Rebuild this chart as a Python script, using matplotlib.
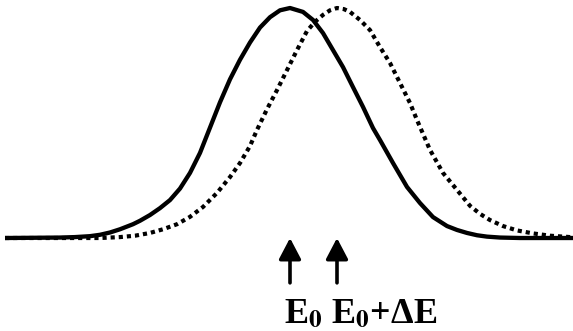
import numpy as np
import matplotlib
matplotlib.use('Agg')
import matplotlib.pyplot as plt

plt.rcParams['mathtext.fontset'] = 'stix'
plt.rcParams['font.family'] = ['Liberation Serif', 'DejaVu Serif']

##################################Spectrum Data#################################

# Energy axis (arbitrary units) and normalised intensity of the two line shapes
energy_a = [5, 60, 75, 90, 100, 110, 120, 133, 140, 150, 160, 170, 180, 190, 200,
            210, 220, 230, 240, 250, 260, 270, 280, 290, 303, 313, 323, 333, 343,
            353, 363, 373, 380, 393, 407, 420, 433, 447, 457, 467, 477, 487, 500,
            520, 573]
peak_a = [0.0, 0.002, 0.004, 0.008, 0.014, 0.024, 0.038, 0.06, 0.075, 0.10, 0.13,
          0.165, 0.215, 0.283, 0.37, 0.48, 0.59, 0.69, 0.775, 0.85, 0.915, 0.96,
          0.99, 1.0, 0.983, 0.948, 0.891, 0.817, 0.743, 0.656, 0.57, 0.478, 0.426,
          0.326, 0.222, 0.152, 0.091, 0.052, 0.035, 0.022, 0.012, 0.006, 0.002,
          0.0, 0.0]

energy_b = [5, 100, 120, 135, 150, 163, 177, 190, 203, 217, 230, 240, 250, 257, 267,
            277, 287, 297, 307, 315, 323, 330, 337, 344, 350, 360, 370, 380, 390,
            400, 410, 417, 430, 443, 457, 470, 480, 490, 503, 517, 533, 550, 567,
            573]
peak_b = [0.0, 0.0, 0.004, 0.01, 0.022, 0.038, 0.06, 0.092, 0.135, 0.196, 0.265,
          0.326, 0.40, 0.47, 0.56, 0.643, 0.73, 0.817, 0.90, 0.94, 0.97, 0.99,
          1.0, 0.995, 0.983, 0.948, 0.904, 0.83, 0.761, 0.674, 0.587, 0.513,
          0.383, 0.283, 0.209, 0.14, 0.105, 0.078, 0.052, 0.033, 0.02, 0.01,
          0.005, 0.003]

# Marker positions for the arrows
E0 = 290
dE = 47
arrow_labels = [r'E$_\mathbf{0}$', r'E$_\mathbf{0}$+ΔE']

####################################Plotting####################################

fig = plt.figure(figsize=(5.73, 3.31), dpi=100)
ax = fig.add_axes([0, 0, 1, 1])

ax.plot(energy_b, peak_b, color='black', lw=3.0, linestyle=(0, (1.0, 0.95)),
        dash_capstyle='butt', solid_joinstyle='round')
ax.plot(energy_a, peak_a, color='black', lw=3.1, solid_capstyle='butt',
        solid_joinstyle='round')

for x, lab in zip([E0, E0 + dE], arrow_labels):
    ax.annotate('', xy=(x, 0.0), xytext=(x, -0.195),
                arrowprops=dict(arrowstyle='-|>,head_length=0.8,head_width=0.42',
                                color='black', lw=2.6, mutation_scale=16,
                                shrinkA=0, shrinkB=0))
    ax.text(x - 6, -0.37, lab, fontsize=26, fontweight='bold', ha='left',
            va='baseline', color='black')

ax.set_xlim(0, 573)
ax.set_ylim(-0.4043, 1.0348)
ax.axis('off')

fig.savefig('out.png', dpi=100)
